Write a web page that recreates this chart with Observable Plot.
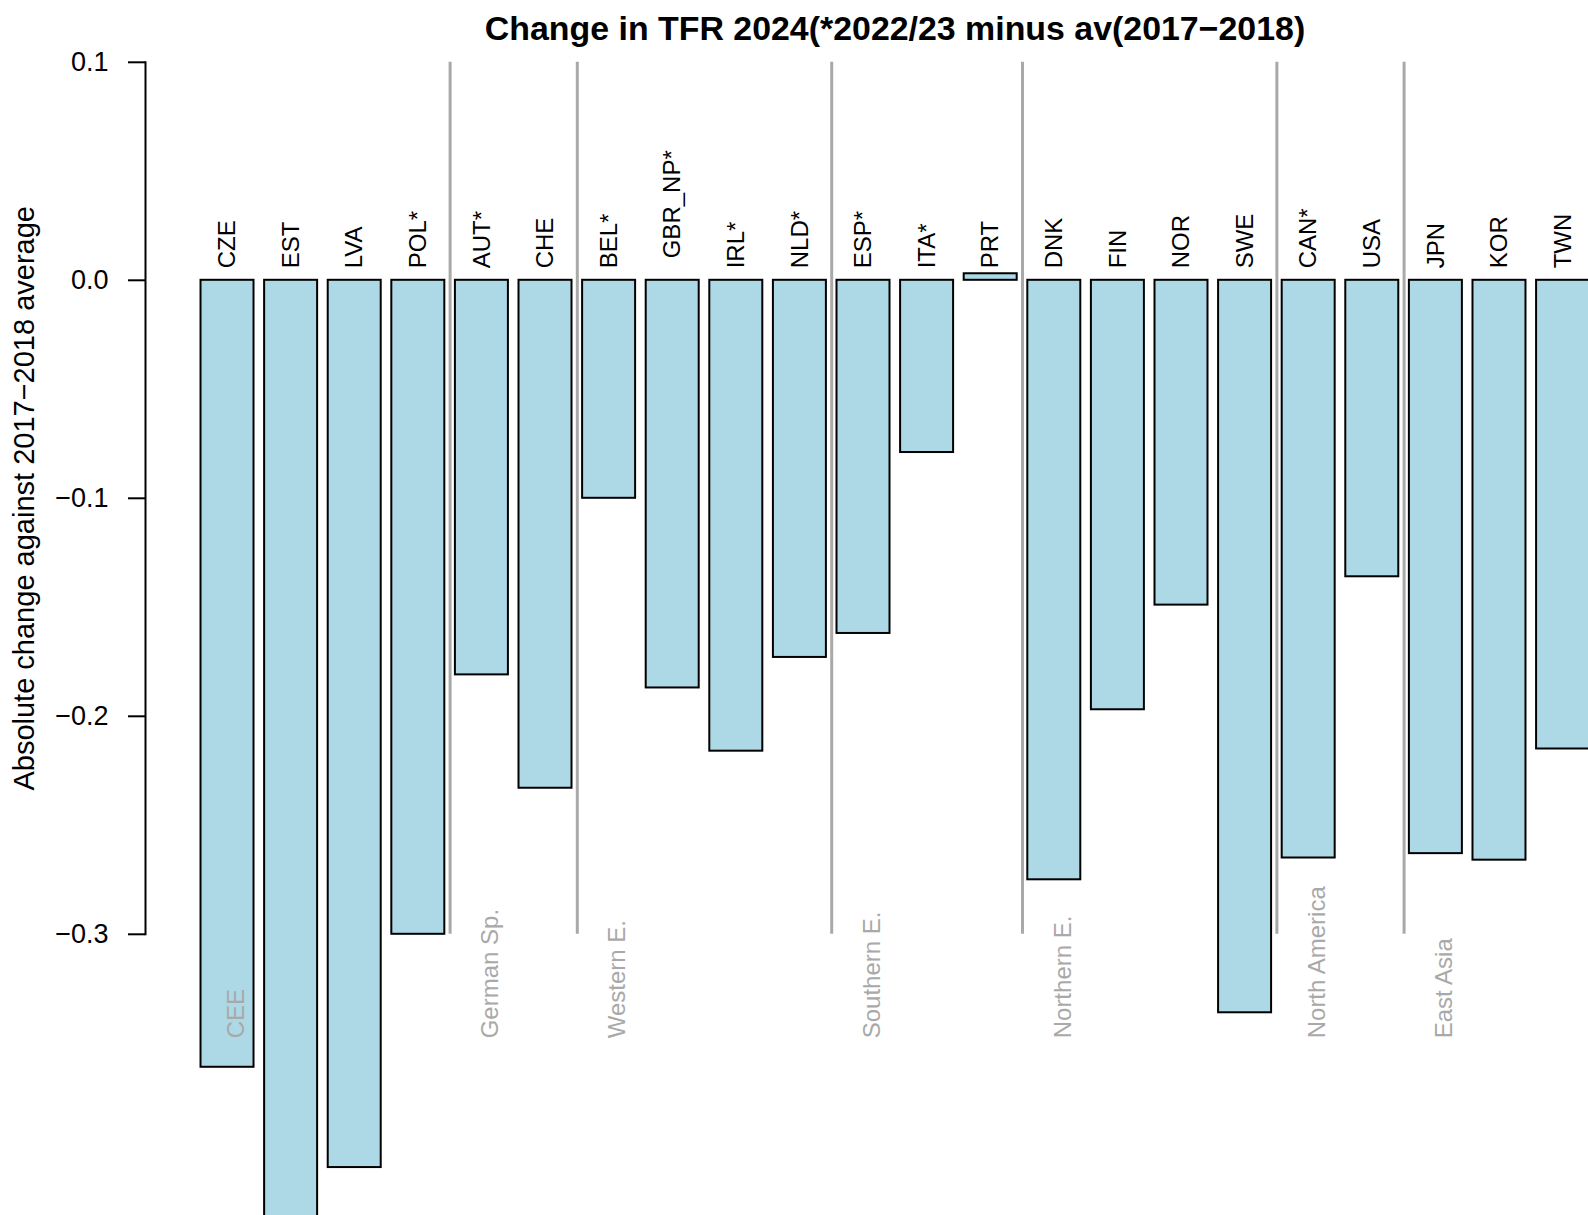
<!DOCTYPE html>
<html>
<head>
<meta charset="utf-8">
<script src="https://cdn.jsdelivr.net/npm/d3@7"></script>
<script src="https://cdn.jsdelivr.net/npm/@observablehq/plot@0.6"></script>
<style>
html, body { margin: 0; padding: 0; overflow: hidden; background: white; width: 1588px; height: 1215px; position: relative; }
#title { position: absolute; top: 0; left: 0; width: 1790px; padding-top: 8px; line-height: 40px; text-align: center; z-index: 2;
  font-family: "Liberation Sans", Arial, sans-serif; font-weight: bold; font-size: 33.9px; color: black; white-space: nowrap; }
#chart svg { display: block; }
</style>
</head>
<body>
<div id="title">Change in TFR 2024(*2022/23 minus av(2017−2018)</div>
<div id="chart"></div>
<script>
const countries = ["CZE","EST","LVA","POL*","AUT*","CHE","BEL*","GBR_NP*","IRL*","NLD*","ESP*","ITA*","PRT","DNK","FIN","NOR","SWE","CAN*","USA","JPN","KOR","TWN"];
const values = [-0.361,-0.44,-0.407,-0.300,-0.181,-0.233,-0.100,-0.187,-0.216,-0.173,-0.162,-0.079,0.003,-0.275,-0.197,-0.149,-0.336,-0.265,-0.136,-0.263,-0.266,-0.215];
const groupNames = ["CEE","German Sp.","Western E.","Southern E.","Northern E.","North America","East Asia"];
const groupStarts = ["CZE","AUT*","BEL*","ESP*","DNK","CAN*","JPN"];
const yTicks = [0.1, 0, -0.1, -0.2, -0.3];
const yLabel = "Absolute change against 2017−2018 average";
const raisedLabels = ["GBR_NP*"];

const data = countries.map((c, i) => ({country: c, value: values[i]}));
const groups = groupNames.map((g, i) => ({name: g, start: groupStarts[i]}));
const separators = groups.slice(1);

const grey = "#a9a9a9";
const labelOpts = {x: "country", y: 0, text: "country", rotate: -90, textAnchor: "start", lineAnchor: "middle", fontSize: 24, fill: "black"};
const chart = Plot.plot({
  width: 1588,
  height: 1215,
  marginTop: 61.8,
  marginBottom: 281.2,
  marginLeft: 145,
  marginRight: -56.6,
  style: {fontFamily: "'Liberation Sans', Arial, sans-serif", fontSize: "24px", background: "white", color: "black"},
  x: {domain: countries, paddingInner: 0.1667, paddingOuter: 0.873, align: 0.5, round: false, axis: null},
  y: {domain: [-0.3, 0.1], axis: null},
  marks: [
    Plot.ruleX(separators, {x: "start", y1: -0.3, y2: 0.1, dx: -31.8, stroke: grey, strokeWidth: 3}),
    Plot.barY(data, {x: "country", y: "value", fill: "#add8e6", stroke: "black", strokeWidth: 2}),
    Plot.text(data.filter(d => !raisedLabels.includes(d.country)), {...labelOpts, dy: -12}),
    Plot.text(data.filter(d => raisedLabels.includes(d.country)), {...labelOpts, dy: -22}),
    Plot.text(groups, {x: "start", y: -0.3, text: "name", rotate: -90, textAnchor: "start", lineAnchor: "middle", dx: 8.7, dy: 104, fontSize: 24, fill: grey}),
    Plot.axisY({ticks: yTicks, tickFormat: d3.format(".1f"), tickSize: 17, tickPadding: 20, fontSize: 27, label: null, strokeWidth: 2}),
    Plot.frame({anchor: "left", stroke: "black", strokeWidth: 2}),
    Plot.text([yLabel], {frameAnchor: "left", rotate: -90, textAnchor: "middle", lineAnchor: "middle", dx: -121, fontSize: 29, fill: "black"})
  ]
});
document.getElementById("chart").appendChild(chart);
</script>
</body>
</html>
